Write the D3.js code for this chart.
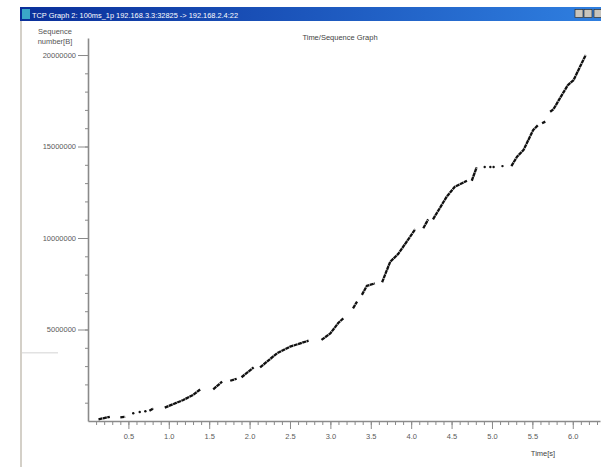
<!DOCTYPE html>
<html>
<head>
<meta charset="utf-8">
<script src="https://cdn.jsdelivr.net/npm/d3@7.9.0/dist/d3.min.js"></script>
<style>
  html, body { margin: 0; padding: 0; background: #fff; }
  svg { display: block; font-family: "Liberation Sans", Arial, sans-serif; }
  .axis path, .axis line { stroke: #8a8a8a; }
  .axis text { fill: #5a5a5a; font-size: 7.5px; font-family: "Liberation Sans", Arial, sans-serif; }
</style>
</head>
<body>
<svg id="chart" width="601" height="467"></svg>
<script>
// segments seen in the trace: each run is a list of [time s, sequence bytes]
const runs = [
  [[0.13, 90000], [0.20, 160000], [0.27, 230000]],
  [[0.40, 200000], [0.46, 230000]],
  [[0.76, 560000], [0.81, 690000]],
  [[0.95, 730000], [1.18, 1150000], [1.30, 1420000], [1.39, 1730000]],
  [[1.55, 1730000], [1.66, 2150000]],
  [[1.76, 2200000], [1.84, 2310000]],
  [[1.90, 2390000], [2.05, 2930000]],
  [[2.13, 2930000], [2.34, 3700000], [2.50, 4060000], [2.73, 4390000]],
  [[2.89, 4430000], [3.00, 4790000], [3.10, 5370000], [3.16, 5610000]],
  [[3.28, 6160000], [3.33, 6520000]],
  [[3.39, 6890000], [3.45, 7380000], [3.55, 7520000]],
  [[3.64, 7580000], [3.74, 8700000], [3.84, 9130000], [4.05, 10480000]],
  [[4.15, 10530000], [4.21, 11020000]],
  [[4.27, 11020000], [4.44, 12260000], [4.54, 12800000], [4.69, 13130000]],
  [[4.75, 13130000], [4.81, 13860000]],
  [[5.24, 13930000], [5.31, 14440000], [5.39, 14810000], [5.51, 15900000], [5.57, 16170000]],
  [[5.62, 16270000], [5.66, 16360000]],
  [[5.72, 16900000], [5.76, 17030000], [5.84, 17630000], [5.94, 18360000], [6.01, 18630000], [6.16, 20000000]]
];
// lone packets
const dotTimes = [0.56, 0.64, 0.71, 4.91, 4.98, 5.02, 5.13];
const dotSeqs = [420000, 490000, 530000, 13880000, 13880000, 13880000, 13930000];

const yMajor = [5000000, 10000000, 15000000, 20000000];
const xMajor = [0.5, 1.0, 1.5, 2.0, 2.5, 3.0, 3.5, 4.0, 4.5, 5.0, 5.5, 6.0];
const windowTitle = "TCP Graph 2: 100ms_1p 192.168.3.3:32825 -> 192.168.2.4:22";
const chartTitle = "Time/Sequence Graph";

const svg = d3.select('#chart');

// window chrome
const defs = svg.append('defs');
const grad = defs.append('linearGradient').attr('id', 'bar');
grad.append('stop').attr('offset', '0%').attr('stop-color', '#0a2f9a');
grad.append('stop').attr('offset', '100%').attr('stop-color', '#2f7fe0');
svg.append('rect').attr('x', 20).attr('y', 7).attr('width', 581).attr('height', 14).attr('fill', 'url(#bar)');
svg.append('rect').attr('x', 20).attr('y', 21).attr('width', 2).attr('height', 446).attr('fill', '#d4d0c8');
svg.append('rect').attr('x', 22).attr('y', 352).attr('width', 36).attr('height', 1.5).attr('fill', '#e2e2e2');
svg.append('rect').attr('x', 22).attr('y', 9).attr('width', 8).attr('height', 10).attr('fill', '#3aa6c8');
svg.append('text').attr('x', 32).attr('y', 17.5)
  .attr('fill', '#fff').attr('font-size', 8)
  .attr('textLength', 206).attr('lengthAdjust', 'spacingAndGlyphs')
  .text(windowTitle);
[575, 584, 594].forEach((bx) => {
  svg.append('rect').attr('x', bx).attr('y', 9.5).attr('width', 8).attr('height', 8)
    .attr('fill', '#c8c4bc').attr('stroke', '#303030').attr('stroke-width', 0.7);
});

// scales
const x = d3.scaleLinear().domain([0, 6.337]).range([88, 600]);
const y = d3.scaleLinear().domain([0, 20930000]).range([421, 38]);

// y axis: minor then major
svg.append('g').attr('class', 'axis').attr('transform', 'translate(88,0)')
  .call(d3.axisLeft(y).tickValues(d3.range(1000000, 20000000, 1000000)).tickSize(3).tickSizeOuter(0).tickFormat(''))
  .call((g) => g.select('.domain').attr('stroke-width', 1.6));
svg.append('g').attr('class', 'axis').attr('transform', 'translate(88,0)')
  .call(d3.axisLeft(y).tickValues(yMajor).tickSize(10).tickPadding(2).tickFormat(d3.format('d')))
  .call((g) => g.select('.domain').remove());

// x axis
svg.append('g').attr('class', 'axis').attr('transform', 'translate(0,421)')
  .call(d3.axisBottom(x).tickValues(d3.range(1, 64).map((i) => i / 10)).tickSize(4).tickSizeOuter(0).tickFormat(''))
  .call((g) => g.select('.domain').attr('stroke-width', 1.6));
svg.append('g').attr('class', 'axis').attr('transform', 'translate(0,421)')
  .call(d3.axisBottom(x).tickValues(xMajor).tickSize(8).tickPadding(5).tickFormat(d3.format('.1f')))
  .call((g) => g.select('.domain').remove());

// labels
svg.append('text').attr('x', 55).attr('y', 34).attr('text-anchor', 'middle')
  .attr('font-size', 7.5).attr('fill', '#555').text('Sequence');
svg.append('text').attr('x', 55).attr('y', 44).attr('text-anchor', 'middle')
  .attr('font-size', 7.5).attr('fill', '#555').text('number[B]');
svg.append('text').attr('x', 340).attr('y', 40).attr('text-anchor', 'middle')
  .attr('font-size', 7.5).attr('fill', '#444').text(chartTitle);
svg.append('text').attr('x', 543).attr('y', 456).attr('text-anchor', 'middle')
  .attr('font-size', 7.5).attr('fill', '#444').text('Time[s]');

// trace, drawn as a chain of packet marks
const line = d3.line().x((d) => x(d[0])).y((d) => y(d[1]));
svg.append('g').selectAll('path').data(runs).join('path')
  .attr('d', line)
  .attr('fill', 'none')
  .attr('stroke', '#111')
  .attr('stroke-width', 2.3)
  .attr('stroke-dasharray', '4 0.5')
  .attr('stroke-linejoin', 'round');
svg.append('g').selectAll('circle').data(dotTimes).join('circle')
  .attr('cx', (d) => x(d))
  .attr('cy', (d, i) => y(dotSeqs[i]))
  .attr('r', 1.2)
  .attr('fill', '#111');
</script>
</body>
</html>
